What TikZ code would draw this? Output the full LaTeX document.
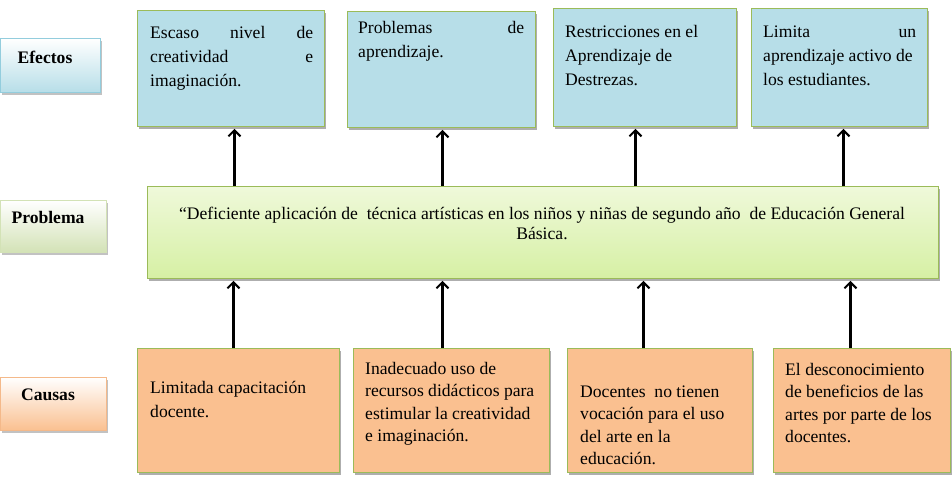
\documentclass[tikz,border=0pt]{standalone}
\usepackage{fontspec}
\setmainfont{Liberation Serif}
\usetikzlibrary{shadows,arrows.meta}
\definecolor{eblue}{HTML}{B7DEE8}
\definecolor{cpeach}{HTML}{FAC090}
\definecolor{bord}{HTML}{9BBB59}
\definecolor{pgtop}{HTML}{EFF9DA}
\definecolor{pgbot}{HTML}{D6F0A4}
\definecolor{lgreen}{HTML}{D3E2B6}
\definecolor{lblueb}{HTML}{93CDDD}
\definecolor{lpeachb}{HTML}{F4B98A}
\begin{document}
\begin{tikzpicture}[x=1pt,y=-1pt,
  box/.style={draw=bord, line width=0.9pt, inner sep=0pt, anchor=north west,
    drop shadow={shadow xshift=1.5pt, shadow yshift=-2.5pt, fill=black!45, opacity=0.7}},
  ebox/.style={box, fill=eblue},
  cbox/.style={box, fill=cpeach},
  pbox/.style={box, top color=pgtop, bottom color=pgbot},
  lbox/.style={line width=0.6pt, inner sep=0pt, anchor=north west,
    drop shadow={shadow xshift=1.5pt, shadow yshift=-2.5pt, fill=black!40, opacity=0.6}},
  txt/.style={inner sep=0pt, anchor=base west, font=\fontsize{17.6}{24}\selectfont},
  ctxt/.style={inner sep=0pt, anchor=base west, font=\fontsize{17.6}{22.5}\selectfont},
  lbl/.style={inner sep=0pt, font=\fontsize{17.6}{21}\selectfont\bfseries},
  arr/.style={line width=2.3pt, -{Straight Barb[length=6pt,width=12pt,line width=2pt]}}
]
\useasboundingbox (0,0) rectangle (952,483);

% left labels
\node[lbox, draw=lblueb, top color=white, bottom color=eblue, minimum width=100pt, minimum height=54pt] (lE) at (0,38) {};
\node[lbl] (lEt) at (45,57) {Efectos};
\node[lbox, draw=lgreen, top color=white, bottom color=lgreen, minimum width=106pt, minimum height=52pt] (lP) at (0,200) {};
\node[lbl] (lPt) at (48,217) {Problema};
\node[lbox, draw=lpeachb, top color=white, bottom color=cpeach, minimum width=106pt, minimum height=53pt] (lC) at (0,377) {};
\node[lbl] (lCt) at (48,395) {Causas};

% effects
\node[ebox, minimum width=187pt, minimum height=116pt] (e1) at (137,10) {};
\node[ebox, minimum width=188pt, minimum height=116pt] (e2) at (347,11) {};
\node[ebox, minimum width=183pt, minimum height=118pt] (e3) at (553,8) {};
\node[ebox, minimum width=176pt, minimum height=118pt] (e4) at (751,8) {};
\node[txt] (e1t) at (150,38) {\parbox[t]{163pt}{Escaso\hfill nivel\hfill de\\creatividad\hfill e\\imaginación.}};
\node[txt] (e2t) at (358,33) {\parbox[t]{166pt}{Problemas\hfill de\\aprendizaje.}};
\node[txt] (e3t) at (565,37) {\parbox[t]{162pt}{Restricciones en el\\Aprendizaje de\\Destrezas.}};
\node[txt] (e4t) at (763,37) {\parbox[t]{153pt}{Limita\hfill un\\aprendizaje activo de\\los estudiantes.}};

% problem
\node[pbox, minimum width=791pt, minimum height=92pt] (p) at (147,186) {};
\node[inner sep=0pt, align=center, font=\fontsize{17.6}{20}\selectfont] (pt) at (542,223)
  {“Deficiente aplicación de\ \ técnica artísticas en los niños y niñas de segundo año\ \ de Educación General\\Básica.};

% causes
\node[cbox, minimum width=202pt, minimum height=124pt] (c1) at (137,348) {};
\node[cbox, minimum width=196pt, minimum height=124pt] (c2) at (353,348) {};
\node[cbox, minimum width=185pt, minimum height=124pt] (c3) at (567,348) {};
\node[cbox, minimum width=177pt, minimum height=124pt] (c4) at (773,348) {};
\node[ctxt] (c1t) at (150,393) {\parbox[t]{185pt}{Limitada capacitación\\[1.5pt]docente.}};
\node[ctxt] (c2t) at (365,374) {\parbox[t]{180pt}{Inadecuado uso de\\recursos didácticos para\\estimular la creatividad\\e imaginación.}};
\node[ctxt] (c3t) at (580,397) {\parbox[t]{170pt}{Docentes\ \ no tienen\\vocación para el uso\\del arte en la\\educación.}};
\node[ctxt] (c4t) at (785,375) {\parbox[t]{165pt}{El desconocimiento\\de beneficios de las\\artes por parte de los\\docentes.}};

% arrows problem -> effects
\coordinate (a1) at ([xshift=3.5pt]e1.south);
\coordinate (a2) at ([xshift=1pt]e2.south);
\coordinate (a3) at ([xshift=-9.5pt]e3.south);
\coordinate (a4) at ([xshift=4pt]e4.south);
\foreach \a in {a1,a2,a3,a4} \draw[arr] (\a |- p.north) -- ([yshift=-2pt]\a);

% arrows causes -> problem
\coordinate (b1) at ([xshift=-5pt]c1.north);
\coordinate (b2) at ([xshift=-9pt]c2.north);
\coordinate (b3) at ([xshift=-16.5pt]c3.north);
\coordinate (b4) at ([xshift=-11.5pt]c4.north);
\foreach \b in {b1,b2,b3,b4} \draw[arr] (\b) -- ([yshift=-2pt]\b |- p.south);
\end{tikzpicture}
\end{document}
